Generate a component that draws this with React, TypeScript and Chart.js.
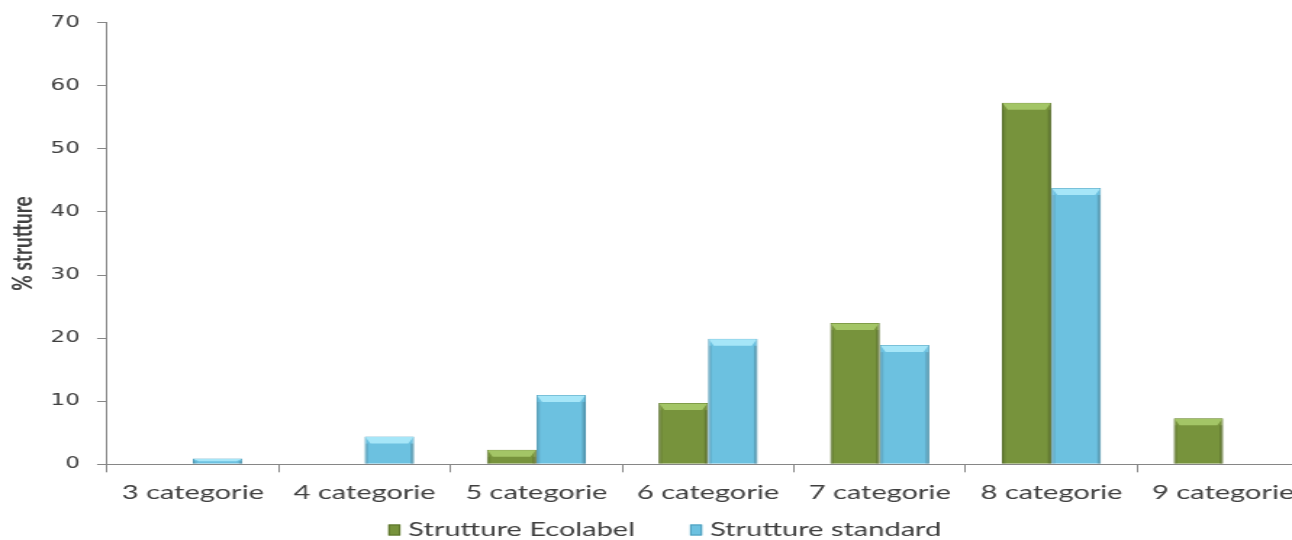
import React, { useEffect, useRef } from "react";
import { Chart, registerables } from "chart.js";

Chart.register(...registerables);

// ---- data ----
const categories = [
  "3 categorie",
  "4 categorie",
  "5 categorie",
  "6 categorie",
  "7 categorie",
  "8 categorie",
  "9 categorie",
];
const ecolabelValues = [0, 0, 2.3, 9.7, 22.4, 57.3, 7.3];
const standardValues = [0.9, 4.4, 11.0, 19.9, 18.9, 43.8, 0];
const seriesNames = ["Strutture Ecolabel", "Strutture standard"];
const yAxisTitle = "% strutture";
const yMin = 0;
const yMax = 70;
const yStep = 10;

// ---- rendering constants ----
const STRETCH = 1.45; // horizontal stretch of the whole drawing
const CANVAS_W = 917;
const CANVAS_H = 540;
const TEXT_COLOR = "#404040";
const AXIS_COLOR = "#868686";

const bevelPlugin = {
  id: "bevel",
  afterDatasetsDraw(chart: any) {
    const ctx = chart.ctx;
    const tops = ["#A3C566", "#A6E6F8"];
    chart.data.datasets.forEach((ds: any, di: number) => {
      const meta = chart.getDatasetMeta(di);
      meta.data.forEach((el: any) => {
        const p = el.getProps(["x", "y", "base", "width"], true);
        const left = p.x - p.width / 2;
        const right = p.x + p.width / 2;
        const h = p.base - p.y;
        if (h < 1) return;
        const dv = Math.min(7, h * 0.5);
        const dh = 4;
        ctx.save();
        ctx.fillStyle = "rgba(0,0,0,0.10)";
        ctx.fillRect(left + 0.5, p.y + dv, 2, h - dv);
        ctx.fillStyle = "rgba(0,0,0,0.16)";
        ctx.fillRect(right - 2.5, p.y + dv, 2, h - dv);
        ctx.beginPath();
        ctx.moveTo(left + 0.5, p.y + 0.5);
        ctx.lineTo(right - 0.5, p.y + 0.5);
        ctx.lineTo(right - dh, p.y + dv);
        ctx.lineTo(left + dh, p.y + dv);
        ctx.closePath();
        ctx.fillStyle = tops[di];
        ctx.fill();
        ctx.restore();
      });
    });
  },
};

// legend drawn at the bottom, centred, using the datasets' labels and colours
const bottomLegendPlugin = {
  id: "bottomLegend",
  afterDraw(chart: any) {
    const ctx = chart.ctx;
    const boxW = 8.3;
    const boxH = 11;
    const boxGap = 5.5;
    const itemGap = 38;
    const y = 530;
    ctx.save();
    ctx.font = "20px Lato";
    ctx.textBaseline = "middle";
    ctx.textAlign = "left";
    const items = chart.data.datasets.map((ds: any) => ({
      text: ds.label,
      bg: ds.backgroundColor,
      border: ds.borderColor,
      w: boxW + boxGap + ctx.measureText(ds.label).width,
    }));
    const total =
      items.reduce((a: number, it: any) => a + it.w, 0) +
      itemGap * (items.length - 1);
    let x = chart.width / 2 - total / 2;
    items.forEach((it: any) => {
      ctx.fillStyle = it.bg;
      ctx.fillRect(x, y - boxH / 2, boxW, boxH);
      ctx.strokeStyle = it.border;
      ctx.lineWidth = 1;
      ctx.strokeRect(x + 0.5, y - boxH / 2 + 0.5, boxW - 1, boxH - 1);
      ctx.fillStyle = TEXT_COLOR;
      ctx.fillText(it.text, x + boxW + boxGap, y);
      x += it.w + itemGap;
    });
    ctx.restore();
  },
};

export default function App() {
  const canvasRef = useRef<HTMLCanvasElement | null>(null);

  useEffect(() => {
    if (!canvasRef.current) return;
    const chart = new Chart(canvasRef.current, {
      type: "bar",
      data: {
        labels: categories,
        datasets: [
          {
            label: seriesNames[0],
            data: ecolabelValues,
            backgroundColor: "#77933C",
            borderColor: "#5C742C",
            borderWidth: 1,
            borderSkipped: "bottom",
          },
          {
            label: seriesNames[1],
            data: standardValues,
            backgroundColor: "#6CC1E0",
            borderColor: "#4C9DBB",
            borderWidth: 1,
            borderSkipped: "bottom",
          },
        ],
      },
      options: {
        animation: false,
        responsive: false,
        devicePixelRatio: 1,
        layout: { padding: { top: 22.7, right: 14.2, left: 0, bottom: 29 } },
        datasets: {
          bar: { categoryPercentage: 0.577, barPercentage: 1.0 },
        },
        plugins: {
          tooltip: { enabled: false },
          legend: { display: false },
        },
        scales: {
          x: {
            grid: {
              offset: true,
              drawOnChartArea: false,
              tickLength: 8,
              color: AXIS_COLOR,
            },
            border: { color: AXIS_COLOR, width: 1 },
            ticks: {
              color: TEXT_COLOR,
              font: { family: "Lato", size: 20 },
              padding: 8,
              maxRotation: 0,
              autoSkip: false,
            },
            afterFit: (s: any) => {
              s.height = 46.7;
            },
          },
          y: {
            min: yMin,
            max: yMax,
            grid: {
              drawOnChartArea: false,
              tickLength: 6.9,
              color: AXIS_COLOR,
            },
            border: { color: AXIS_COLOR, width: 1 },
            ticks: {
              stepSize: yStep,
              color: TEXT_COLOR,
              font: { family: "DejaVu Sans", size: 16 },
              padding: 11.7,
            },
            title: {
              display: true,
              text: yAxisTitle,
              color: TEXT_COLOR,
              font: { family: "Lato", size: 19, weight: "bold" },
              padding: { top: 4, bottom: 0 },
            },
            afterFit: (s: any) => {
              s.width = 73.8;
            },
          },
        },
      },
      plugins: [bevelPlugin, bottomLegendPlugin],
    });
    return () => chart.destroy();
  }, []);

  return (
    <div
      style={{
        position: "fixed",
        left: 0,
        top: 0,
        width: 1292,
        height: 540,
        overflow: "hidden",
        background: "#ffffff",
      }}
    >
      <canvas
        ref={canvasRef}
        width={CANVAS_W}
        height={CANVAS_H}
        style={{
          position: "absolute",
          left: 0,
          top: 0,
          transform: `scaleX(${STRETCH})`,
          transformOrigin: "0 0",
        }}
      />
    </div>
  );
}
